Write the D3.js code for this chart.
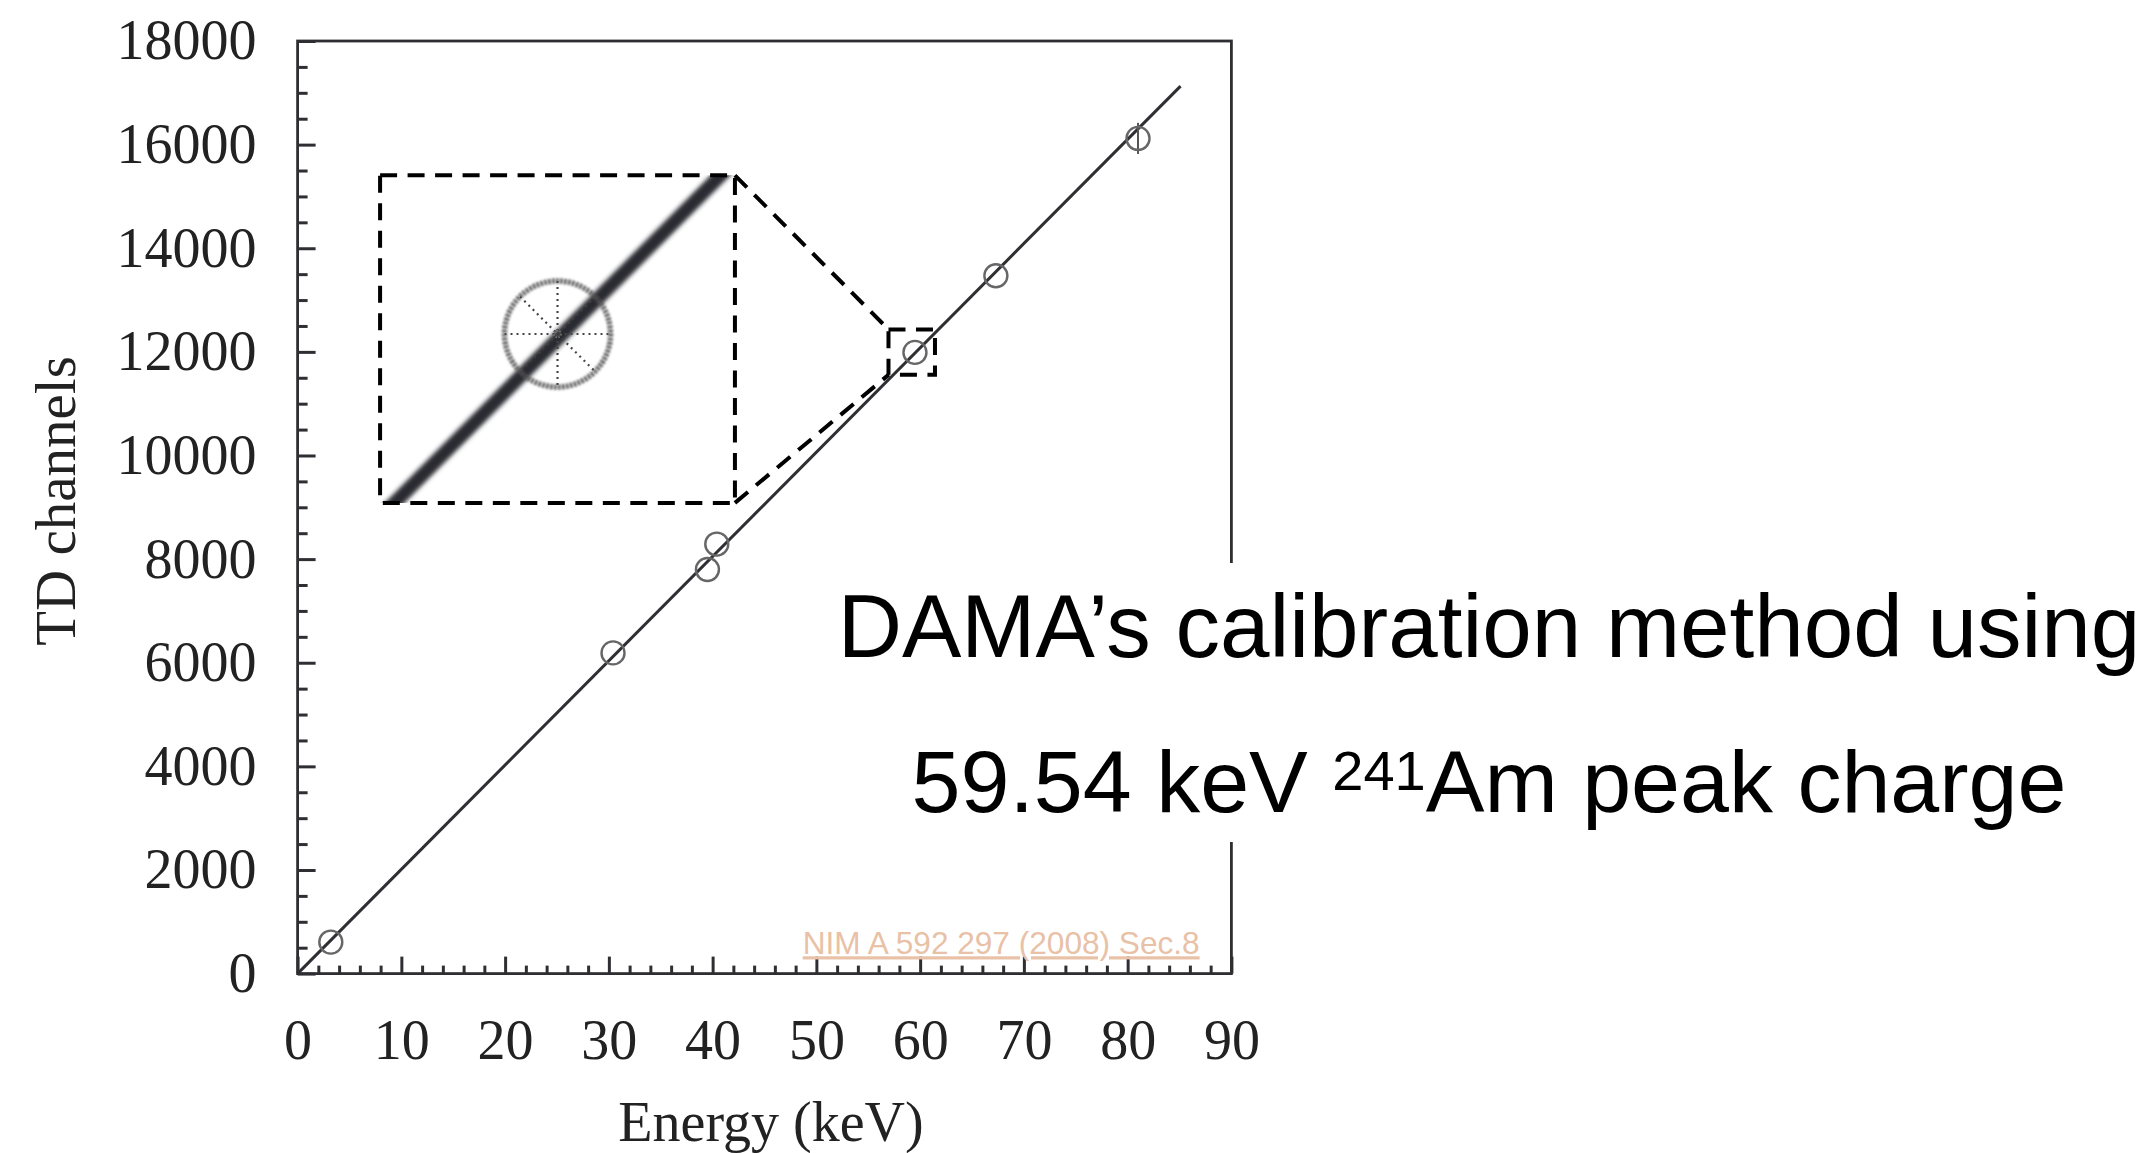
<!DOCTYPE html>
<html>
<head>
<meta charset="utf-8">
<script src="https://cdn.jsdelivr.net/npm/d3@7"></script>
<style>
  html, body { margin: 0; padding: 0; background: #fff; }
  svg { display: block; }
</style>
</head>
<body>
<div id="chart"></div>
<script>
// calibration points (keV, TD channels)
const energies = [3.2, 30.4, 39.5, 40.4, 59.5, 67.3, 81.0];
const channels = [608, 6190, 7800, 8290, 11990, 13470, 16120];
const channelErr = [0, 0, 0, 0, 0, 0, 300];

// straight-line fit drawn across the panel
const fitEnergy = [0, 85.1];
const fitChannel = [0, 17130];

// axis ticks
const xMajor = [0, 10, 20, 30, 40, 50, 60, 70, 80, 90];
const yMajor = [0, 2000, 4000, 6000, 8000, 10000, 12000, 14000, 16000, 18000];

// zoom marker round the 241Am point and where the enlarged view sits
const zoomEnergy = [56.95, 61.43];
const zoomChannel = [11556, 12434];
const insetEnergy = [7.95, 42.15];
const insetChannel = [9085, 15407];
const insetViewEnergy = [57.25, 61.75];
const insetViewChannel = [11561, 12393];
const amIndex = 4;

const title1 = "DAMA\u2019s calibration method using";
const title2a = "59.54 keV ";
const title2sup = "241";
const title2b = "Am peak charge";
const sourceNote = "NIM A 592 297 (2008) Sec.8";

const W = 2150, H = 1153;
const INK = "#2f2f33";
const SERIF = "'Liberation Serif', 'Times New Roman', serif";
const SANS = "'Liberation Sans', Arial, Helvetica, sans-serif";

const svg = d3.select("#chart").append("svg")
    .attr("width", W).attr("height", H)
    .attr("viewBox", [0, 0, W, H]);

const defs = svg.append("defs");
defs.append("filter").attr("id", "blurLine")
    .attr("x", "-20%").attr("y", "-20%").attr("width", "140%").attr("height", "140%")
    .append("feGaussianBlur").attr("stdDeviation", 2.2);
defs.append("filter").attr("id", "blurSoft")
    .append("feGaussianBlur").attr("stdDeviation", 0.8);

const x = d3.scaleLinear().domain([0, 90]).range([297.6, 1231.4]);
const y = d3.scaleLinear().domain([0, 18000]).range([973.6, 41]);

// --- axes (ticks pointing inward) ---
const xMinor = d3.range(0, 91, 2).filter(v => v % 10 !== 0);
const yMinor = d3.range(0, 18001, 500).filter(v => v % 2000 !== 0);

function styleAxis(g) {
    g.select(".domain").remove();
    g.selectAll(".tick line").attr("stroke", INK).attr("stroke-width", 3);
    g.selectAll(".tick text").attr("fill", "#222")
        .style("font-family", SERIF).style("font-size", "56px");
}

svg.append("g").attr("transform", `translate(0,${y(0)})`)
    .call(d3.axisBottom(x).tickValues(xMinor).tickSize(-8).tickFormat(""))
    .call(styleAxis);
svg.append("g").attr("transform", `translate(0,${y(0)})`)
    .call(d3.axisBottom(x).tickValues(xMajor).tickSizeInner(-17).tickSizeOuter(0).tickPadding(46).tickFormat(d3.format("d")))
    .call(styleAxis);

svg.append("g").attr("transform", `translate(${x(0)},0)`)
    .call(d3.axisLeft(y).tickValues(yMinor).tickSize(-10).tickFormat(""))
    .call(styleAxis);
svg.append("g").attr("transform", `translate(${x(0)},0)`)
    .call(d3.axisLeft(y).tickValues(yMajor).tickSizeInner(-18).tickSizeOuter(0).tickPadding(41).tickFormat(d3.format("d")))
    .call(styleAxis);

// frame
svg.append("rect")
    .attr("x", x(0)).attr("y", y(18000))
    .attr("width", x(90) - x(0)).attr("height", y(0) - y(18000))
    .attr("fill", "none").attr("stroke", INK).attr("stroke-width", 2.8);

// axis titles
svg.append("text")
    .attr("x", 771).attr("y", 1141)
    .attr("text-anchor", "middle")
    .style("font-family", SERIF).style("font-size", "56px").attr("fill", "#222")
    .text("Energy (keV)");
svg.append("text")
    .attr("transform", "translate(75,501) rotate(-90)")
    .attr("text-anchor", "middle")
    .style("font-family", SERIF).style("font-size", "57px").attr("fill", "#222")
    .text("TD channels");

// --- fit line + points ---
const fitData = fitEnergy.map((e, i) => ({ e, c: fitChannel[i] }));
const line = d3.line().x(d => x(d.e)).y(d => y(d.c));
svg.append("path").datum(fitData)
    .attr("d", line).attr("fill", "none")
    .attr("stroke", INK).attr("stroke-width", 3);

const points = energies.map((e, i) => ({ e, c: channels[i], err: channelErr[i] }));

svg.append("g").selectAll("line").data(points.filter(d => d.err > 0)).join("line")
    .attr("x1", d => x(d.e)).attr("x2", d => x(d.e))
    .attr("y1", d => y(d.c + d.err)).attr("y2", d => y(d.c - d.err))
    .attr("stroke", "#555").attr("stroke-width", 2);

svg.append("g").selectAll("circle").data(points).join("circle")
    .attr("cx", d => x(d.e)).attr("cy", d => y(d.c)).attr("r", 11.5)
    .attr("fill", "none").attr("stroke", "#666").attr("stroke-width", 2.4);

// --- zoom marker, enlarged view and connectors ---
const dash = "17,10.5";
const zx0 = x(zoomEnergy[0]), zx1 = x(zoomEnergy[1]);
const zy0 = y(zoomChannel[1]), zy1 = y(zoomChannel[0]);
const ix0 = x(insetEnergy[0]), ix1 = x(insetEnergy[1]);
const iy0 = y(insetChannel[1]), iy1 = y(insetChannel[0]);

const ins = svg.append("g");
defs.append("clipPath").attr("id", "insetClip")
    .append("rect").attr("x", ix0).attr("y", iy0)
    .attr("width", ix1 - ix0).attr("height", iy1 - iy0);

const xi = d3.scaleLinear().domain(insetViewEnergy).range([ix0, ix1]);
const yi = d3.scaleLinear().domain(insetViewChannel).range([iy1, iy0]);
const lineI = d3.line().x(d => xi(d.e)).y(d => yi(d.c));

const clipG = ins.append("g").attr("clip-path", "url(#insetClip)");
clipG.append("path").datum(fitData)
    .attr("d", lineI).attr("fill", "none")
    .attr("stroke", "#2b2c33").attr("stroke-width", 14)
    .attr("filter", "url(#blurLine)");

const cx = xi(energies[amIndex]), cy = yi(channels[amIndex]);
const R = 53;
const cross = clipG.append("g").attr("stroke", "#444").attr("stroke-width", 2.2)
    .attr("stroke-dasharray", "2,4");
[0, 45, 90, 135].forEach(a => {
    const t = a * Math.PI / 180;
    cross.append("line")
        .attr("x1", cx - R * Math.cos(t)).attr("y1", cy - R * Math.sin(t))
        .attr("x2", cx + R * Math.cos(t)).attr("y2", cy + R * Math.sin(t));
});
clipG.append("circle").attr("cx", cx).attr("cy", cy).attr("r", R)
    .attr("fill", "none").attr("stroke", "#555").attr("stroke-width", 5.5)
    .attr("stroke-dasharray", "2.5,1.5").attr("filter", "url(#blurSoft)");
clipG.append("circle").attr("cx", cx).attr("cy", cy).attr("r", 3.5)
    .attr("fill", "none").attr("stroke", "#777").attr("stroke-width", 1.5)
    .attr("stroke-dasharray", "1.5,1.5");

const dashed = (g) => g.attr("fill", "none").attr("stroke", "#000")
    .attr("stroke-width", 4).attr("stroke-dasharray", dash);

ins.append("rect").attr("x", ix0).attr("y", iy0)
    .attr("width", ix1 - ix0).attr("height", iy1 - iy0).call(dashed);
ins.append("rect").attr("x", zx0).attr("y", zy0)
    .attr("width", zx1 - zx0).attr("height", zy1 - zy0).call(dashed);
ins.append("line").attr("x1", ix1).attr("y1", iy0).attr("x2", zx0).attr("y2", zy0).call(dashed);
ins.append("line").attr("x1", ix1).attr("y1", iy1).attr("x2", zx0).attr("y2", zy1).call(dashed);

// --- source note ---
svg.append("text")
    .attr("x", 802.7).attr("y", 954.3)
    .style("font-family", SANS).style("font-size", "31.6px")
    .style("text-decoration", "underline")
    .attr("fill", "#e8c1a6")
    .text(sourceNote);

// --- slide caption with white backing over the frame ---
svg.append("rect").attr("x", 835).attr("y", 563)
    .attr("width", W - 835).attr("height", 279).attr("fill", "#fff");

svg.append("text")
    .attr("x", 1489).attr("y", 656.7)
    .attr("text-anchor", "middle")
    .style("font-family", SANS).style("font-size", "89px").attr("fill", "#000")
    .text(title1);

const t2 = svg.append("text")
    .attr("x", 1489).attr("y", 811.7)
    .attr("text-anchor", "middle")
    .style("font-family", SANS).style("font-size", "88px").attr("fill", "#000");
t2.append("tspan").text(title2a);
t2.append("tspan").attr("dy", -21.7).style("font-size", "56px").text(title2sup);
t2.append("tspan").attr("dy", 21.7).text(title2b);
</script>
</body>
</html>
